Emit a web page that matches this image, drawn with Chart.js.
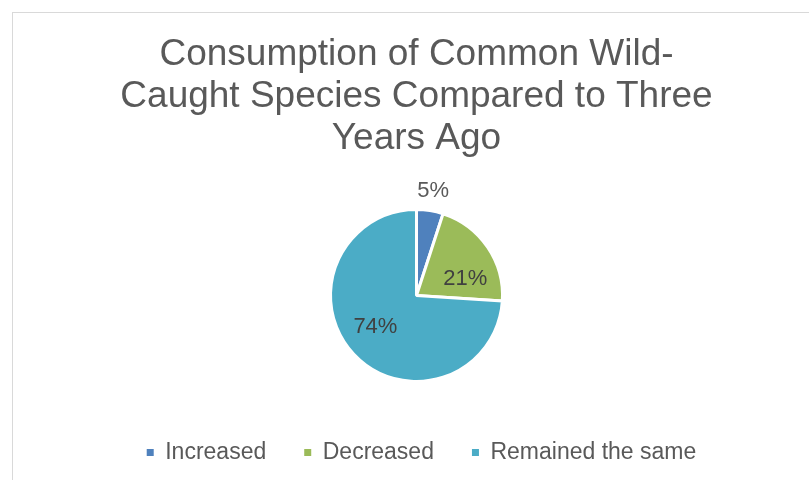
<!DOCTYPE html>
<html>
<head>
<meta charset="utf-8">
<script src="https://cdn.jsdelivr.net/npm/chart.js@4/dist/chart.umd.min.js"></script>
<style>
  html, body { margin: 0; padding: 0; background: #fff; }
  #frame {
    position: absolute; left: 12px; top: 12px;
    width: 820px; height: 500px;
    border: 1px solid #d9d9d9;
  }
  #chart { position: absolute; left: 0; top: 0; }
</style>
</head>
<body>
<div id="frame"></div>
<canvas id="chart" width="809" height="480"></canvas>
<script>
const titleLines = ['Consumption of Common Wild-', 'Caught Species Compared to Three', 'Years Ago'];
const categories = ['Increased', 'Decreased', 'Remained the same'];
const shares = [5, 21, 74];
const sliceColors = ['#4F81BD', '#9BBB59', '#4BACC6'];

// label placement tweaks, roughly where Excel put them
const labelRadius = [1.23, 0.6, 0.6];
const labelAngleShift = [0, 15, 6];
const labelColors = ['#595959', '#404040', '#404040'];

const fontFamily = '"Liberation Sans", Arial, sans-serif';

const pieLabels = {
    id: 'pieLabels',
    afterDatasetsDraw(chart) {
        const ctx = chart.ctx;
        const meta = chart.getDatasetMeta(0);
        ctx.save();
        ctx.font = '22px ' + fontFamily;
        ctx.textAlign = 'center';
        ctx.textBaseline = 'middle';
        meta.data.forEach((arc, i) => {
            const mid = (arc.startAngle + arc.endAngle) / 2 + labelAngleShift[i] * Math.PI / 180;
            const r = arc.outerRadius * labelRadius[i];
            ctx.fillStyle = labelColors[i];
            ctx.fillText(shares[i] + '%', arc.x + Math.cos(mid) * r, arc.y + Math.sin(mid) * r);
        });
        ctx.restore();
    }
};

// the legend in the original sits a few px right of centre
const nudgeLegend = {
    id: 'nudgeLegend',
    afterLayout(chart) {
        chart.legend.left += 5;
        chart.legend.right += 5;
    }
};

const baseLabels = Chart.controllers.pie.overrides.plugins.legend.labels.generateLabels;

new Chart(document.getElementById('chart').getContext('2d'), {
    type: 'pie',
    data: {
        labels: categories,
        datasets: [{
            data: shares,
            backgroundColor: sliceColors,
            borderColor: '#ffffff',
            borderWidth: 3
        }]
    },
    options: {
        responsive: false,
        animation: false,
        events: [],
        radius: 86,
        layout: { padding: { top: 12, left: 24, right: 0, bottom: 6 } },
        plugins: {
            title: {
                display: true,
                text: titleLines,
                color: '#595959',
                font: { family: fontFamily, size: 37, weight: 'normal', lineHeight: 42 / 37 },
                padding: { top: 22, bottom: 28 }
            },
            legend: {
                position: 'bottom',
                labels: {
                    color: '#595959',
                    font: { family: fontFamily, size: 23 },
                    boxWidth: 7,
                    boxHeight: 7,
                    padding: 38,
                    generateLabels: chart => baseLabels(chart).map(l => Object.assign(l, { lineWidth: 0 }))
                }
            },
            tooltip: { enabled: false }
        }
    },
    plugins: [pieLabels, nudgeLegend]
});
</script>
</body>
</html>
